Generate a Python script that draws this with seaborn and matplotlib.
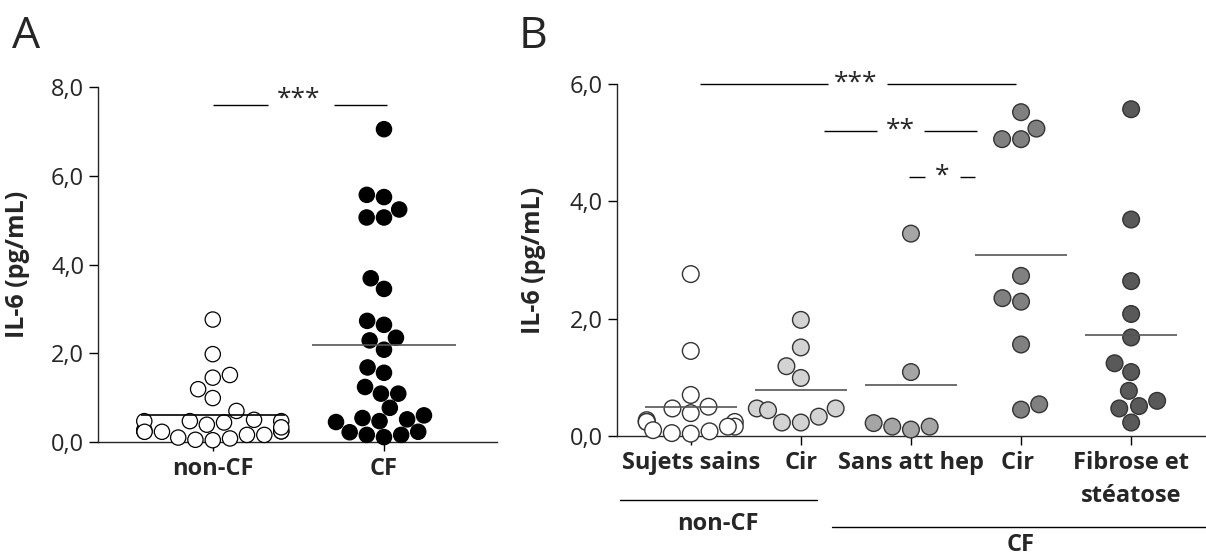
import numpy as np
import pandas as pd
import matplotlib
matplotlib.use("Agg")
import matplotlib.pyplot as plt
from matplotlib.ticker import FuncFormatter
import seaborn as sns

# IL-6 values (pg/mL), panel B groups
sujets_sains = [2.76, 1.45, 0.70, 0.50, 0.47, 0.39, 0.27, 0.24, 0.24, 0.24,
                0.16, 0.16, 0.10, 0.08, 0.05, 0.04]
cir_noncf = [1.98, 1.51, 1.19, 0.99, 0.47, 0.47, 0.44, 0.33, 0.23, 0.23]
sans_att_hep = [3.45, 1.09, 0.16, 0.11, 0.16, 0.22]
cir_cf = [5.52, 5.24, 5.06, 5.06, 2.73, 2.35, 2.29, 1.56, 0.54, 0.45]
fibrose = [5.57, 3.69, 2.64, 2.08, 1.68, 1.24, 1.09, 0.77, 0.60, 0.51, 0.47, 0.23]

# panel A pools the groups (one extra CF patient above the panel B range)
extra_cf = [7.05]
noncf_all = sujets_sains + cir_noncf
cf_all = sans_att_hep + cir_cf + fibrose + extra_cf

a_groups = ["non-CF", "CF"]
a_colors = ["white", "black"]
b_groups = ["Sujets sains", "Cir", "Sans att hep", "Cir ", "Fibrose et\nstéatose"]
b_colors = ["#ffffff", "#d3d3d3", "#a5a5a5", "#808080", "#595959"]

df_a = pd.DataFrame({
    "group": ["non-CF"] * len(noncf_all) + ["CF"] * len(cf_all),
    "il6": noncf_all + cf_all,
})
b_values = [sujets_sains, cir_noncf, sans_att_hep, cir_cf, fibrose]
df_b = pd.DataFrame({
    "group": [g for g, v in zip(b_groups, b_values) for _ in v],
    "il6": [x for v in b_values for x in v],
})

sns.set_style("ticks")
plt.rcParams["font.family"] = ["Open Sans", "DejaVu Sans"]
plt.rcParams["axes.linewidth"] = 1.0

fig = plt.figure(figsize=(12.06, 5.59), dpi=100)
ax_a = fig.add_axes([0.0813, 0.2093, 0.3308, 0.635])
ax_b = fig.add_axes([0.5116, 0.2200, 0.4884, 0.6297])

comma = FuncFormatter(lambda v, p: f"{v:.1f}".replace(".", ","))

# ---- panel A
sns.swarmplot(data=df_a, x="group", y="il6", hue="group", order=a_groups,
              hue_order=a_groups, palette=dict(zip(a_groups, a_colors)),
              size=11, edgecolor="black", linewidth=0.9, legend=False,
              ax=ax_a, clip_on=False, zorder=3)
for i, g in enumerate(a_groups):
    m = df_a.loc[df_a.group == g, "il6"].mean()
    ax_a.hlines(m, i - 0.42, i + 0.42, color="#555555" if g == "CF" else "black",
                lw=1.2, zorder=4)
ax_a.set_xlim(-0.67, 1.66)
ax_a.set_ylim(0, 8)
ax_a.set_yticks([0, 2, 4, 6, 8])
ax_a.yaxis.set_major_formatter(comma)
ax_a.set_xlabel("")
ax_a.set_ylabel("IL-6 (pg/mL)", fontsize=18, fontweight="bold")
ax_a.yaxis.set_label_coords(-0.17, 0.5)
ax_a.hlines(7.6, 0, 0.32, color="black", lw=1)
ax_a.hlines(7.6, 0.71, 1.02, color="black", lw=1)
ax_a.text(0.5, 7.45, "***", ha="center", va="bottom", fontsize=19)

# ---- panel B
sns.swarmplot(data=df_b, x="group", y="il6", hue="group", order=b_groups,
              hue_order=b_groups, palette=dict(zip(b_groups, b_colors)),
              size=12, edgecolor="#333333", linewidth=1.0, legend=False,
              ax=ax_b, clip_on=False, zorder=3)
for i, v in enumerate(b_values):
    ax_b.hlines(np.mean(v), i - 0.42, i + 0.42, color="#555555", lw=1.2, zorder=4)
ax_b.set_xlim(-0.67, 4.68)
ax_b.set_ylim(0, 6)
ax_b.set_yticks([0, 2, 4, 6])
ax_b.yaxis.set_major_formatter(comma)
ax_b.set_xlabel("")
ax_b.set_ylabel("IL-6 (pg/mL)", fontsize=18, fontweight="bold")
ax_b.yaxis.set_label_coords(-0.12, 0.5)

# significance bars
ax_b.hlines(6.0, 0.08, 1.25, color="black", lw=1, clip_on=False)
ax_b.hlines(6.0, 1.78, 2.95, color="black", lw=1, clip_on=False)
ax_b.text(1.5, 6.02, "***", ha="center", va="center", fontsize=19)
ax_b.hlines(5.2, 1.21, 1.69, color="black", lw=1)
ax_b.hlines(5.2, 2.12, 2.6, color="black", lw=1)
ax_b.text(1.9, 5.22, "**", ha="center", va="center", fontsize=19)
ax_b.hlines(4.41, 1.98, 2.13, color="black", lw=1)
ax_b.hlines(4.41, 2.45, 2.58, color="black", lw=1)
ax_b.text(2.28, 4.43, "*", ha="center", va="center", fontsize=19)

# group brackets under the axis
tr = ax_b.get_xaxis_transform()
ax_b.plot([-0.64, 1.15], [-0.182, -0.182], color="black", lw=1, transform=tr, clip_on=False)
ax_b.text(0.25, -0.25, "non-CF", transform=tr, ha="center", va="center",
          fontsize=17, fontweight="bold")
ax_b.plot([1.28, 4.68], [-0.259, -0.259], color="black", lw=1, transform=tr, clip_on=False)
ax_b.text(3.0, -0.343, "CF", transform=tr, ha="center", va="bottom",
          fontsize=17, fontweight="bold")

for ax in (ax_a, ax_b):
    sns.despine(ax=ax)
    ax.tick_params(axis="both", length=6.5, width=1, color="black")
    ax.tick_params(axis="y", labelsize=17)
    ax.tick_params(axis="x", labelsize=17, pad=4)
    for t in ax.get_xticklabels():
        t.set_fontweight("bold")
        t.set_linespacing(1.5)

fig.text(0.010, 1 - 48 / 559, "A", fontsize=32, va="baseline", ha="left")
fig.text(0.430, 1 - 48 / 559, "B", fontsize=32, va="baseline", ha="left")

fig.savefig("out.png", dpi=100, facecolor="white")
